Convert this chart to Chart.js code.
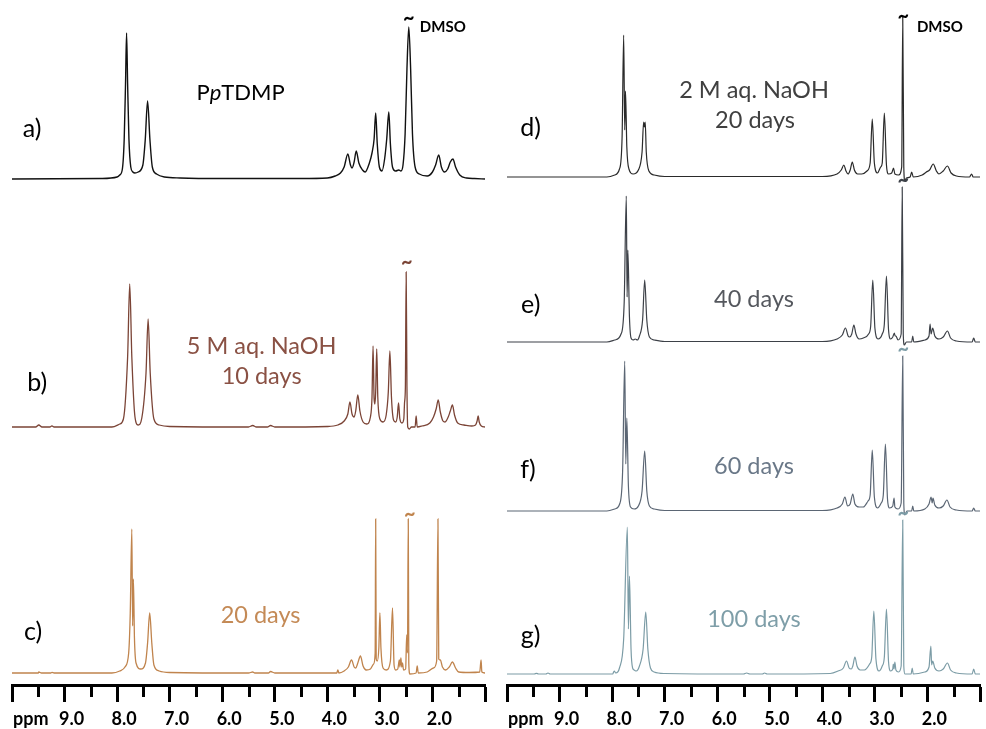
<!DOCTYPE html>
<html>
<head>
<meta charset="utf-8">
<script src="https://cdn.jsdelivr.net/npm/chart.js@4.4.1/dist/chart.umd.min.js"></script>
<style>
  html, body { margin: 0; padding: 0; background: #fff; }
  #wrap { position: relative; width: 986px; height: 729px; }
  canvas { position: absolute; top: 0; }
  #left { left: 0; }
  #right { left: 493px; }
</style>
</head>
<body>
<div id="wrap">
  <canvas id="left" width="493" height="729"></canvas>
  <canvas id="right" width="493" height="729"></canvas>
</div>
<script>
// ppm axis ticks
const majorTicks = [10, 9, 8, 7, 6, 5, 4, 3, 2, 1];
const minorTicks = [9.5, 8.5, 7.5, 6.5, 5.5, 4.5, 3.5, 2.5, 1.5];
const labelledTicks = [9, 8, 7, 6, 5, 4, 3, 2];

// spectra: [ppm, intensity]
const specA = [[10,0],[8.3,0.5],[8.0,2],[7.95,4],[7.9,10],[7.865,40],[7.84,95],[7.82,146],[7.80,95],[7.775,40],[7.74,12],[7.70,7],[7.66,6],[7.60,7],
  [7.51,14],[7.465,39],[7.42,78],[7.375,39],[7.33,12],[7.25,5],[7.1,2],[6.8,1],[6.0,0.5],[4.5,0.5],[4.0,1],[3.85,3],[3.75,6],
  [3.68,12],[3.61,25],[3.56,14],[3.53,11],[3.49,17],[3.45,28],[3.40,16],[3.33,9],[3.28,7],[3.20,16],[3.15,26],[3.11,40],[3.08,66],[3.05,35],
  [3.01,12],[2.96,8],[2.91,20],[2.87,40],[2.83,67],[2.80,35],[2.76,12],[2.70,8],[2.64,9],[2.60,8],[2.56,14],[2.52,45],[2.485,110],[2.45,152],
  [2.415,110],[2.38,45],[2.33,12],[2.25,5],[2.10,3],[2.00,7],[1.94,14],[1.88,24],[1.83,12],[1.77,7],[1.71,10],[1.66,17],[1.61,20],[1.56,12],
  [1.48,4],[1.35,1],[1.2,0.5],[1.0,0]];

const specB = [[10,0],[9.55,0],[9.49,2],[9.43,0],[9.28,0],[9.24,1.2],[9.20,0],[8.1,0],[7.95,3],[7.88,8],[7.80,70],[7.76,143],[7.72,70],[7.66,10],
  [7.60,2],[7.53,9],[7.45,54],[7.41,108],[7.37,54],[7.30,8],[7.2,2],[7.0,0.5],[5.5,0],[5.42,1.5],[5.35,0],[5.14,0],[5.08,1.5],[5.0,0],[4.0,0.5],
  [3.8,2],[3.68,6],[3.61,13],[3.57,25],[3.53,13],[3.49,10],[3.46,16],[3.42,32],[3.38,16],[3.32,5],[3.25,3],[3.18,10],[3.15,30],[3.13,81],[3.11,28],
  [3.095,23],[3.08,35],[3.06,78],[3.04,30],[3.00,8],[2.94,5],[2.88,12],[2.84,35],[2.81,76],[2.78,30],[2.74,7],[2.70,5],[2.67,10],[2.645,24],[2.62,8],
  [2.58,4],[2.545,8],[2.53,25],[2.515,40],[2.50,155],[2.485,40],[2.47,0],[2.44,-2],[2.40,0],[2.33,0],[2.31,11],[2.29,0],[2.2,1],[2.05,4],[1.98,10],
  [1.93,18],[1.89,27],[1.85,15],[1.80,6],[1.76,5],[1.70,10],[1.66,16],[1.62,22],[1.58,12],[1.52,4],[1.40,2],[1.25,1],[1.18,2],[1.15,6],[1.13,11],
  [1.11,5],[1.07,1],[1.0,0]];

const specC = [[10,0],[9.5,0],[9.49,1],[9.44,0],[9.26,0],[9.24,0.7],[9.20,0],[8.1,0],[7.95,2],[7.85,6],[7.78,20],[7.75,60],[7.72,144],[7.705,47],
  [7.69,94],[7.67,35],[7.64,10],[7.55,4],[7.46,10],[7.42,30],[7.38,60],[7.34,30],[7.30,8],[7.2,2],[7.0,0.5],[5.5,0],[5.42,1],[5.38,0],[5.12,0],
  [5.08,1.5],[5.0,0],[3.82,0],[3.80,3],[3.78,0],[3.68,2],[3.60,6],[3.54,13],[3.49,6],[3.46,5],[3.42,10],[3.37,17],[3.32,7],[3.26,3],[3.18,4],
  [3.12,9],[3.09,20],[3.08,154],[3.07,14],[3.05,12],[3.02,25],[3.00,60],[2.98,25],[2.94,5],[2.88,3],[2.80,12],[2.76,65],[2.73,8],[2.70,3],[2.66,4],
  [2.63,13],[2.62,6],[2.60,15],[2.585,6],[2.57,10],[2.55,3],[2.51,4],[2.49,38],[2.475,20],[2.46,154],[2.45,10],[2.43,-1],[2.31,0],[2.29,7],[2.27,0],
  [2.10,1],[1.98,5],[1.92,12],[1.895,154],[1.88,14],[1.85,13],[1.81,6],[1.75,3],[1.68,6],[1.62,11],[1.56,5],[1.50,1],[1.3,0.5],[1.10,1],[1.075,13],
  [1.06,1],[1.0,0]];

const specD = [[10,0],[8.1,0],[7.95,2],[7.86,8],[7.81,40],[7.78,142],[7.76,47],[7.745,86],[7.72,30],[7.68,8],[7.60,3],[7.50,7],[7.43,25],[7.40,55],
  [7.385,50],[7.37,55],[7.35,25],[7.30,6],[7.2,2],[7.0,0.5],[4.0,0.5],[3.72,3],[3.64,7],[3.59,12],[3.55,6],[3.51,3],[3.47,7],[3.43,15],[3.39,7],
  [3.33,3],[3.25,3],[3.15,6],[3.09,14],[3.05,58],[3.01,14],[2.95,4],[2.89,10],[2.86,14],[2.82,64],[2.78,12],[2.74,3],[2.68,4],[2.645,9],[2.62,3],
  [2.55,2],[2.49,10],[2.47,160],[2.45,10],[2.43,-4],[2.40,-1],[2.33,0],[2.30,5],[2.27,0],[2.10,2],[2.02,5],[1.96,7],[1.89,13],[1.83,6],[1.78,3],
  [1.70,6],[1.62,11],[1.55,4],[1.45,1],[1.20,0],[1.16,3],[1.13,0],[1.0,0]];

const specE = [[10,0],[8.1,0],[7.95,2],[7.83,8],[7.77,40],[7.73,146],[7.715,45],[7.70,92],[7.67,25],[7.64,4],[7.60,2],[7.56,3],[7.52,2],[7.48,6],
  [7.42,22],[7.38,62],[7.34,22],[7.29,5],[7.2,2],[7.0,0.5],[4.0,0.5],[3.72,3],[3.62,7],[3.56,14],[3.51,6],[3.48,5],[3.44,8],[3.40,17],[3.36,8],
  [3.30,3],[3.22,4],[3.12,8],[3.08,16],[3.04,62],[3.00,14],[2.94,3],[2.86,8],[2.82,18],[2.78,66],[2.74,12],[2.70,3],[2.66,5],[2.63,9],[2.615,6],
  [2.60,6],[2.56,2],[2.50,8],[2.48,155],[2.46,8],[2.44,-3],[2.40,0],[2.30,0],[2.28,6],[2.26,0],[2.05,2],[1.97,6],[1.95,18],[1.93,8],[1.90,14],
  [1.86,6],[1.78,3],[1.70,5],[1.62,11],[1.56,4],[1.45,1],[1.15,0],[1.12,4],[1.09,0],[1.0,0]];

const specF = [[10,0],[8.1,0],[7.95,2],[7.85,8],[7.80,40],[7.76,150],[7.74,47],[7.72,93],[7.69,25],[7.65,4],[7.58,2],[7.50,5],[7.43,20],[7.38,60],
  [7.34,20],[7.29,5],[7.2,2],[7.0,0.5],[4.0,0.5],[3.72,3],[3.62,7],[3.57,14],[3.52,5],[3.47,7],[3.42,17],[3.38,7],[3.30,4],[3.22,4],[3.13,10],
  [3.09,16],[3.05,61],[3.01,14],[2.95,3],[2.88,8],[2.84,16],[2.80,67],[2.76,12],[2.72,3],[2.66,5],[2.635,13],[2.62,4],[2.56,2],[2.50,8],[2.47,155],
  [2.45,8],[2.43,-4],[2.39,0],[2.30,0],[2.28,5],[2.26,0],[2.05,2],[1.97,7],[1.93,14],[1.91,8],[1.895,13],[1.86,6],[1.78,3],[1.70,5],[1.63,11],
  [1.57,4],[1.45,1],[1.15,0],[1.12,3],[1.09,0],[1.0,0]];

const specG = [[10,0],[9.48,0],[9.44,0.7],[9.40,0],[9.26,0],[9.22,1],[9.18,0],[8.1,0],[7.99,0],[7.96,3],[7.93,1],[7.86,6],[7.78,35],[7.71,147],
  [7.69,45],[7.67,98],[7.64,25],[7.61,6],[7.58,4],[7.54,3],[7.48,8],[7.41,25],[7.36,62],[7.32,25],[7.27,6],[7.2,2],[7.0,0.5],[5.5,0],[5.44,1],
  [5.38,0],[5.14,0],[5.10,1],[5.05,0],[3.85,0.5],[3.70,3],[3.60,6],[3.54,13],[3.49,6],[3.45,5],[3.42,8],[3.38,17],[3.34,8],[3.28,4],[3.20,4],
  [3.10,10],[3.06,17],[3.02,63],[2.98,15],[2.92,3],[2.86,8],[2.82,17],[2.78,65],[2.74,12],[2.70,3],[2.66,5],[2.65,10],[2.635,5],[2.62,12],[2.60,4],
  [2.55,2],[2.50,8],[2.47,154],[2.45,8],[2.43,0],[2.31,0],[2.29,6],[2.27,0],[2.05,2],[1.97,7],[1.935,28],[1.92,9],[1.90,13],[1.86,6],[1.78,3],
  [1.70,5],[1.62,11],[1.56,4],[1.45,1],[1.15,0],[1.12,5],[1.09,0],[1.0,0]];

const FONT = 'Lato, "Open Sans", sans-serif';
const PLOT_H = 685;
const AXIS_H = 729 - PLOT_H;

// each spectrum gets its own hidden y axis; base = baseline distance from top
function band(base) {
  return { display: false, min: base - PLOT_H, max: base };
}

function toPts(arr) {
  return arr.map(p => ({ x: p[0], y: p[1] }));
}

function line(arr, axis, color, width) {
  return {
    data: toPts(arr),
    yAxisID: axis,
    borderColor: color,
    borderWidth: width,
    pointRadius: 0,
    cubicInterpolationMode: 'monotone',
    fill: false
  };
}

// draws minor ticks, "ppm" and the text notes, placed through the chart scales
function notesPlugin(items) {
  return {
    id: 'notes',
    afterDraw(chart) {
      const c = chart.ctx;
      const xs = chart.scales.x;
      c.save();
      c.strokeStyle = '#000';
      c.lineWidth = 3;
      minorTicks.forEach(v => {
        const x = Math.round(xs.getPixelForValue(v)) + 0.5;
        c.beginPath();
        c.moveTo(x, xs.top);
        c.lineTo(x, xs.top + 12);
        c.stroke();
      });
      c.fillStyle = '#000';
      c.font = 'bold 18px ' + FONT;
      c.textBaseline = 'middle';
      c.textAlign = 'left';
      c.fillText('ppm', xs.getPixelForValue(10) + 1, xs.top + 34);

      items.forEach(n => {
        const x = xs.getPixelForValue(n.ppm);
        const y = chart.scales[n.axis].getPixelForValue(n.y);
        c.fillStyle = n.color;
        const parts = n.parts || [[n.text, n.font]];
        let total = 0;
        parts.forEach(p => { c.font = p[1]; total += c.measureText(p[0]).width; });
        let cx = n.align === 'left' ? x : x - total / 2;
        c.textAlign = 'left';
        parts.forEach(p => {
          c.font = p[1];
          c.fillText(p[0], cx, y);
          cx += c.measureText(p[0]).width;
        });
      });
      c.restore();
    }
  };
}

function xAxis() {
  return {
    type: 'linear',
    reverse: true,
    min: 1,
    max: 10,
    afterBuildTicks: s => { s.ticks = majorTicks.map(v => ({ value: v })); },
    afterFit: s => { s.height = AXIS_H; },
    ticks: {
      color: '#000',
      font: { family: FONT, size: 18, weight: 'bold', lineHeight: 1.2 },
      padding: 6,
      labelOffset: 7,
      maxRotation: 0,
      autoSkip: false,
      callback: v => labelledTicks.includes(v) ? v.toFixed(1) : ''
    },
    grid: { drawOnChartArea: false, tickLength: 17, tickWidth: 3, tickColor: '#000' },
    border: { display: true, color: '#000', width: 3 }
  };
}

function baseOptions(pad, scales) {
  return {
    responsive: false,
    animation: false,
    events: [],
    layout: { padding: pad },
    plugins: { legend: { display: false }, tooltip: { enabled: false } },
    scales: Object.assign({ x: xAxis() }, scales)
  };
}

const txt = (size, extra) => (extra ? extra + ' ' : '') + size + 'px ' + FONT;

const leftNotes = [
  { text: 'a)', font: txt(25), color: '#000', ppm: 9.62, axis: 'ya', y: 50 },
  { parts: [['P', txt(22)], ['p', txt(22, 'italic')], ['TDMP', txt(22)]], color: '#000', ppm: 5.65, axis: 'ya', y: 86 },
  { text: '~', font: txt(20, 'bold'), color: '#000', ppm: 2.45, axis: 'ya', y: 160 },
  { text: 'DMSO', font: txt(15, 'bold'), color: '#000', ppm: 2.24, axis: 'ya', y: 152, align: 'left' },
  { text: 'b)', font: txt(25), color: '#000', ppm: 9.52, axis: 'yb', y: 44 },
  { text: '5 M aq. NaOH', font: txt(23.5), color: '#8a5144', ppm: 5.25, axis: 'yb', y: 81 },
  { text: '10 days', font: txt(23.5), color: '#8a5144', ppm: 5.25, axis: 'yb', y: 51 },
  { text: '~', font: txt(20, 'bold'), color: '#7b4436', ppm: 2.49, axis: 'yb', y: 164 },
  { text: 'c)', font: txt(25), color: '#000', ppm: 9.60, axis: 'yc', y: 41 },
  { text: '20 days', font: txt(23.5), color: '#c48a56', ppm: 5.27, axis: 'yc', y: 58 },
  { text: '~', font: txt(20, 'bold'), color: '#c0844d', ppm: 2.43, axis: 'yc', y: 158 }
];

const rightNotes = [
  { text: 'd)', font: txt(25), color: '#000', ppm: 9.55, axis: 'yd', y: 49 },
  { text: '2 M aq. NaOH', font: txt(23.5), color: '#404040', ppm: 5.30, axis: 'yd', y: 87 },
  { text: '20 days', font: txt(23.5), color: '#404040', ppm: 5.28, axis: 'yd', y: 57 },
  { text: '~', font: txt(20, 'bold'), color: '#000', ppm: 2.46, axis: 'yd', y: 160 },
  { text: 'DMSO', font: txt(15, 'bold'), color: '#000', ppm: 2.20, axis: 'yd', y: 150, align: 'left' },
  { text: 'e)', font: txt(25), color: '#000', ppm: 9.55, axis: 'ye', y: 37 },
  { text: '40 days', font: txt(23.5), color: '#55585e', ppm: 5.30, axis: 'ye', y: 43 },
  { text: '~', font: txt(20, 'bold'), color: '#3d4148', ppm: 2.46, axis: 'ye', y: 161 },
  { text: 'f)', font: txt(25), color: '#000', ppm: 9.60, axis: 'yf', y: 41 },
  { text: '60 days', font: txt(23.5), color: '#6a7888', ppm: 5.30, axis: 'yf', y: 45 },
  { text: '~', font: txt(20, 'bold'), color: '#7c9ca6', ppm: 2.46, axis: 'yf', y: 161 },
  { text: 'g)', font: txt(25), color: '#000', ppm: 9.55, axis: 'yg', y: 38 },
  { text: '100 days', font: txt(23.5), color: '#7e9ea8', ppm: 5.30, axis: 'yg', y: 55 },
  { text: '~', font: txt(20, 'bold'), color: '#7c9ca6', ppm: 2.46, axis: 'yg', y: 160 }
];

new Chart(document.getElementById('left'), {
  type: 'line',
  data: {
    datasets: [
      line(specA, 'ya', '#111111', 1.4),
      line(specB, 'yb', '#7b4436', 1.3),
      line(specC, 'yc', '#c0844d', 1.3)
    ]
  },
  options: baseOptions({ left: 12, right: 8, top: 0, bottom: 0 },
    { ya: band(179), yb: band(427), yc: band(673) }),
  plugins: [notesPlugin(leftNotes)]
});

new Chart(document.getElementById('right'), {
  type: 'line',
  data: {
    datasets: [
      line(specD, 'yd', '#2a2a2a', 1.2),
      line(specE, 'ye', '#3d4148', 1.2),
      line(specF, 'yf', '#5b6674', 1.2),
      line(specG, 'yg', '#7c9ca6', 1.2)
    ]
  },
  options: baseOptions({ left: 14, right: 4, top: 0, bottom: 0 },
    { yd: band(177), ye: band(342), yf: band(511), yg: band(674) }),
  plugins: [notesPlugin(rightNotes)]
});
</script>
</body>
</html>
